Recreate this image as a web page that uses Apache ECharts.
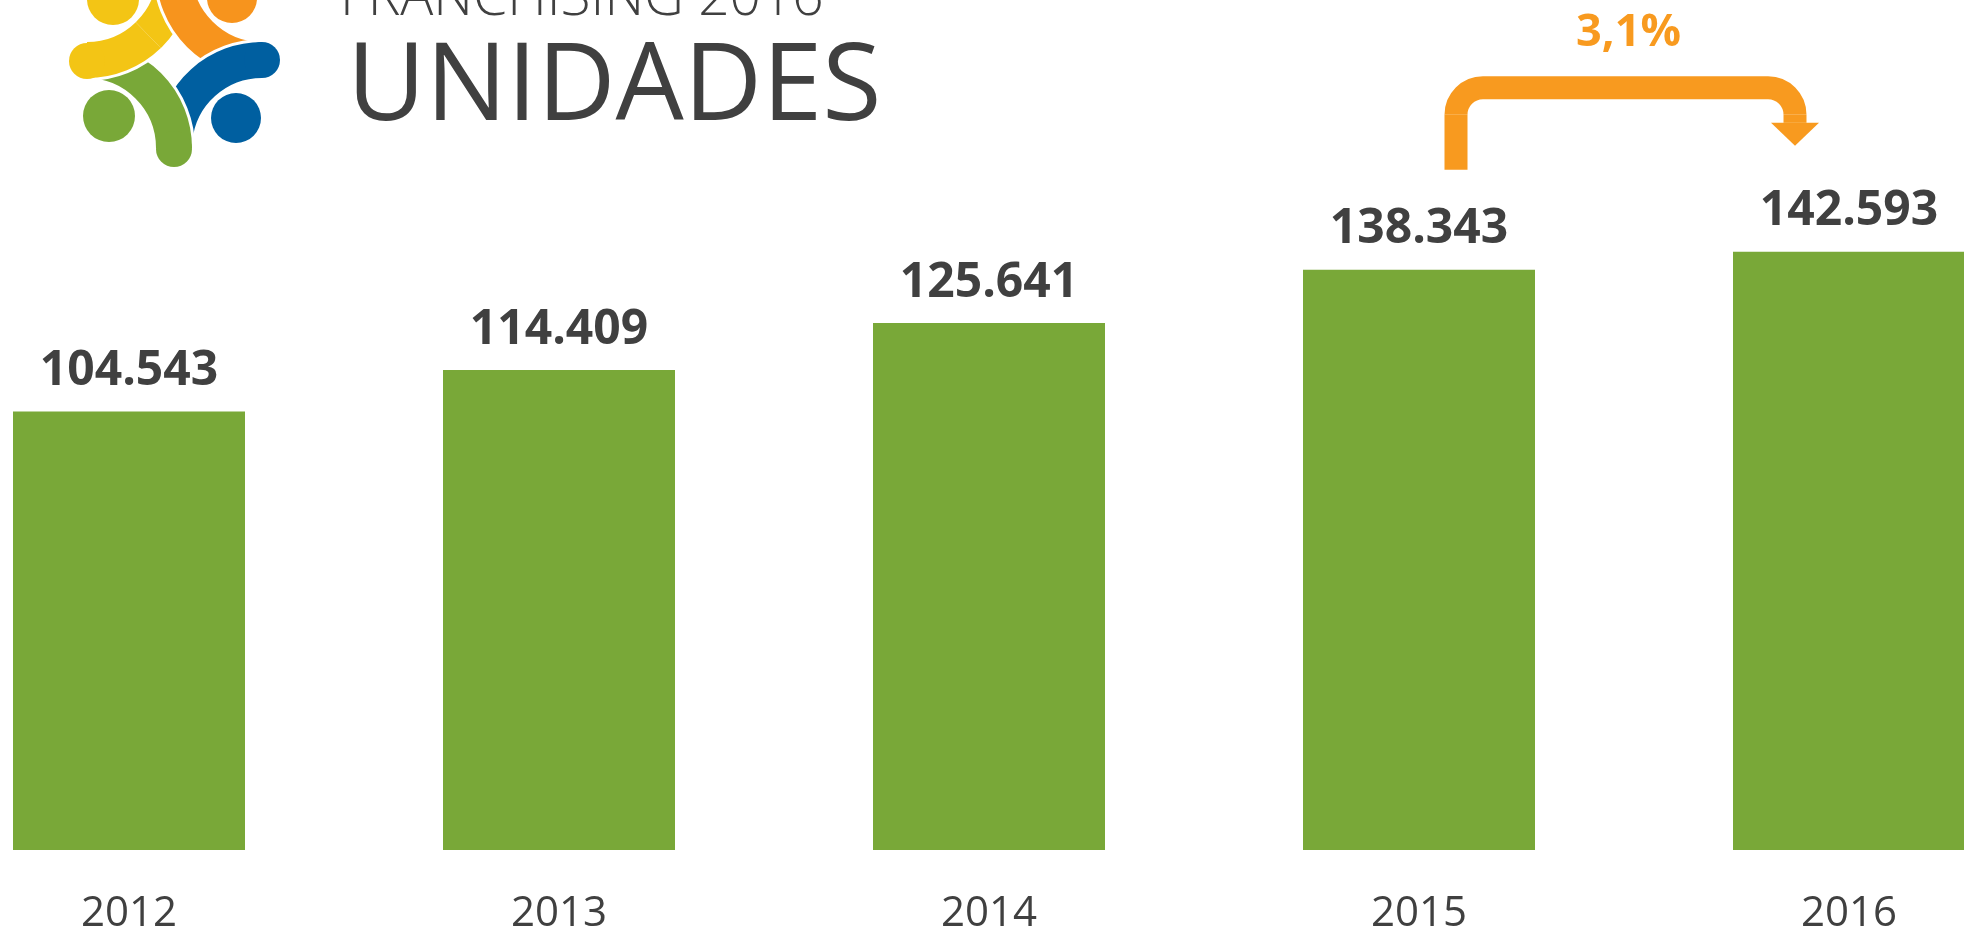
<!DOCTYPE html>
<html>
<head>
<meta charset="utf-8">
<title>Franchising 2016 - Unidades</title>
<script src="https://cdn.jsdelivr.net/npm/echarts@6/dist/echarts.min.js"></script>
<style>
  html, body { margin: 0; padding: 0; background: #fff; }
  #chart { width: 1964px; height: 932px; }
</style>
</head>
<body>
<div id="chart"></div>
<script>
// data
const years = ["2012", "2013", "2014", "2015", "2016"];
const unidades = [104543, 114409, 125641, 138343, 142593];

const textColor = "#404040";
const barGreen = "#79a838";
const orange = "#f89a1f";
const logoColors = { yellow: "#f3c515", orange: "#f7941d", blue: "#005fa0", green: "#79a838" };

// 104543 -> "104.543"
const fmt = (v) => String(v).replace(/\B(?=(\d{3})+(?!\d))/g, ".");

const growth = ((unidades[4] / unidades[3] - 1) * 100).toFixed(1).replace(".", ",") + "%";

const chart = echarts.init(document.getElementById("chart"));

chart.setOption({
  animation: false,
  backgroundColor: "#fff",
  title: [
    {
      text: "FRANCHISING 2016",
      left: 340,
      top: -28,
      padding: 0,
      textStyle: { fontFamily: "Open Sans", fontWeight: 300, fontSize: 55, color: textColor }
    },
    {
      text: "UNIDADES",
      left: 347,
      top: 35,
      padding: 0,
      textStyle: { fontFamily: "Open Sans", fontWeight: 400, fontSize: 108, color: textColor }
    }
  ],
  grid: { left: -86, width: 2150, top: 11, height: 839, outerBoundsMode: "none" },
  xAxis: {
    type: "category",
    data: years,
    axisLine: { show: false },
    axisTick: { show: false },
    axisLabel: { margin: 43, fontFamily: "Open Sans", fontSize: 42, color: textColor }
  },
  yAxis: {
    type: "value",
    min: 0,
    max: 200000,
    show: false,
    splitLine: { show: false }
  },
  series: [
    {
      type: "bar",
      data: unidades,
      barWidth: 232,
      itemStyle: { color: barGreen },
      label: {
        show: true,
        position: "top",
        distance: 16,
        formatter: (p) => fmt(p.value),
        fontFamily: "Open Sans",
        fontWeight: "bold",
        fontSize: 48,
        color: textColor
      }
    }
  ]
});

// logo: four figures, each a curved body with a rounded end, plus a head
const PI = Math.PI;
const figure = (cx, cy, start, end, capX, capY, color) => [
  { type: "arc", shape: { cx, cy, r: 88, startAngle: start, endAngle: end, clockwise: true },
    style: { stroke: "#fff", lineWidth: 42, fill: null } },
  { type: "circle", shape: { cx: capX, cy: capY, r: 21 }, style: { fill: "#fff" } },
  { type: "arc", shape: { cx, cy, r: 88, startAngle: start, endAngle: end, clockwise: true },
    style: { stroke: color, lineWidth: 36, fill: null } },
  { type: "circle", shape: { cx: capX, cy: capY, r: 18 }, style: { fill: color } }
];
// the bodies overlap in a ring, so the yellow one is drawn first
// and its rounded end drawn again on top of the green one
const logo = [].concat(
  figure(87, -28, 0, PI / 2, 87, 61, logoColors.yellow),
  figure(262, -28, PI / 2, PI, 174, -28, logoColors.orange),
  figure(262, 148, PI + 0.1, 1.5 * PI, 262, 60, logoColors.blue),
  figure(86, 148, -PI / 2, 0, 174, 149, logoColors.green),
  figure(87, -28, 0.8, PI / 2, 87, 61, logoColors.yellow),
  [
    { type: "circle", shape: { cx: 113, cy: -1, r: 26 }, style: { fill: logoColors.yellow } },
    { type: "circle", shape: { cx: 232, cy: -2, r: 25 }, style: { fill: logoColors.orange } },
    { type: "circle", shape: { cx: 236, cy: 118, r: 25 }, style: { fill: logoColors.blue } },
    { type: "circle", shape: { cx: 109, cy: 116, r: 26 }, style: { fill: logoColors.green } }
  ]
);

// growth arrow from 2015 to 2016, placed from the bars' pixel positions
const x15 = chart.convertToPixel({ xAxisIndex: 0 }, years[3]);
const x16 = chart.convertToPixel({ xAxisIndex: 0 }, years[4]);
const y15 = chart.convertToPixel({ yAxisIndex: 0 }, unidades[3]);
const y16 = chart.convertToPixel({ yAxisIndex: 0 }, unidades[4]);

const aL = x15 + 37;
const aR = x16 - 54;
const aTop = y16 - 164;
const aBottom = y15 - 100;
const rr = 27;
const arrowStroke = { stroke: orange, lineWidth: 23, fill: null };

const arrow = [
  { type: "line", shape: { x1: aL, y1: aBottom, x2: aL, y2: aTop + rr }, style: arrowStroke },
  { type: "arc", shape: { cx: aL + rr, cy: aTop + rr, r: rr, startAngle: PI, endAngle: 1.5 * PI, clockwise: true }, style: arrowStroke },
  { type: "line", shape: { x1: aL + rr, y1: aTop, x2: aR - rr, y2: aTop }, style: arrowStroke },
  { type: "arc", shape: { cx: aR - rr, cy: aTop + rr, r: rr, startAngle: 1.5 * PI, endAngle: 2 * PI, clockwise: true }, style: arrowStroke },
  { type: "line", shape: { x1: aR, y1: aTop + rr, x2: aR, y2: aTop + 35 }, style: arrowStroke },
  { type: "polygon", shape: { points: [[aR - 24, aTop + 35], [aR + 24, aTop + 35], [aR, aTop + 58]] }, style: { fill: orange } },
  {
    type: "text",
    x: (aL + aR) / 2 + 3,
    y: aTop - 55,
    style: {
      text: growth,
      fill: orange,
      font: "bold 45px 'Open Sans'",
      align: "center",
      verticalAlign: "middle"
    }
  }
];

chart.setOption({ graphic: logo.concat(arrow) });
</script>
</body>
</html>
